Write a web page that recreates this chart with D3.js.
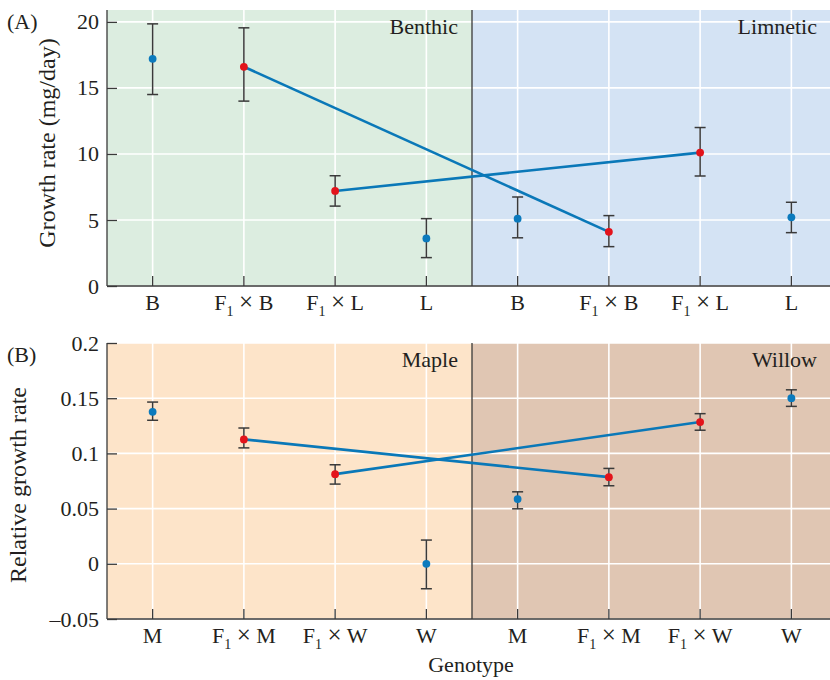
<!DOCTYPE html>
<html><head><meta charset="utf-8">
<script src="https://cdn.jsdelivr.net/npm/d3@7"></script>
<style>body{margin:0;background:#fff}svg{display:block}text{font-family:"Liberation Serif","DejaVu Serif",serif;fill:#231f20}</style>
</head><body><svg id="c" width="830" height="680"></svg>
<script>
// categories (base letter + cross partner) for each panel
const catsA = ["B","F1×B","F1×L","L","B","F1×B","F1×L","L"];
const catsB = ["M","F1×M","F1×W","W","M","F1×M","F1×W","W"];
const envA = ["Benthic","Limnetic"];
const envB = ["Maple","Willow"];
// Panel A: growth rate (mg/day)
const meanA = [17.2, 16.6, 7.2, 3.6, 5.1, 4.1, 10.1, 5.2];
const loA   = [14.5, 14.0, 6.05, 2.15, 3.65, 2.98, 8.33, 4.04];
const hiA   = [19.85, 19.55, 8.35, 5.1, 6.74, 5.33, 12.0, 6.34];
const hybA  = [false, true, true, false, false, true, true, false];
// Panel B: relative growth rate
const meanB = [0.1377, 0.1127, 0.0812, 0.0, 0.0586, 0.0785, 0.1284, 0.150];
const loB   = [0.130, 0.105, 0.0722, -0.0226, 0.0498, 0.0707, 0.121, 0.1426];
const hiB   = [0.1465, 0.123, 0.0897, 0.0215, 0.0652, 0.0864, 0.136, 0.1576];
const hybB  = [false, true, true, false, false, true, true, false];
// hybrid connecting lines: [from index, to index]
const linksA = [[1,5],[2,6]];
const linksB = [[1,5],[2,6]];
const ticksA = [0,5,10,15,20];
const ticksB = [-0.05,0,0.05,0.1,0.15,0.2];

const svg = d3.select("#c");
const X0 = 107, X1 = 837, FS = 22;
const blue = "#0b7abd", red = "#e3131b", lineC = "#0a78b8", dark = "#3a3a3a";

function panel(cfg){
  const g = svg.append("g");
  const x = d3.scaleBand().domain(d3.range(8)).range([X0, X1]);
  const y = d3.scaleLinear().domain(cfg.domain).range([cfg.bottom, cfg.top]);
  const cx = i => x(i) + x.bandwidth()/2;
  // backgrounds
  g.append("rect").attr("x", X0).attr("y", cfg.top).attr("width", x(4)-X0).attr("height", cfg.bottom-cfg.top).attr("fill", cfg.bg[0]);
  g.append("rect").attr("x", x(4)).attr("y", cfg.top).attr("width", X1-x(4)).attr("height", cfg.bottom-cfg.top).attr("fill", cfg.bg[1]);
  // grid
  g.selectAll(".hg").data(cfg.ticks).join("line").attr("x1", X0).attr("x2", X1)
    .attr("y1", d=>y(d)).attr("y2", d=>y(d)).attr("stroke", "#fff").attr("stroke-width", 1.6);
  g.selectAll(".vg").data(d3.range(8)).join("line").attr("x1", cx).attr("x2", cx)
    .attr("y1", cfg.top).attr("y2", cfg.bottom).attr("stroke", "#fff").attr("stroke-width", 1.6);
  // env labels
  g.append("text").attr("x", x(4)-14).attr("y", cfg.top+23.5).attr("text-anchor","end").attr("font-size", FS).text(cfg.env[0]);
  g.append("text").attr("x", 817).attr("y", cfg.top+23.5).attr("text-anchor","end").attr("font-size", FS).text(cfg.env[1]);
  // divider
  g.append("line").attr("x1", x(4)).attr("x2", x(4)).attr("y1", cfg.top).attr("y2", cfg.bottom).attr("stroke", dark).attr("stroke-width", 1.3);
  // axes
  const ya = d3.axisLeft(y).tickValues(cfg.ticks).tickSize(-10).tickPadding(8)
    .tickFormat(d => d < 0 ? "\u2013" + d3.format("")(-d) : d3.format("")(d));
  const yg = g.append("g").attr("transform", `translate(${X0},0)`).call(ya);
  yg.select(".domain").remove();
  yg.selectAll(".tick line").attr("stroke", dark).attr("stroke-width", 1.3);
  yg.selectAll(".tick text").attr("font-size", FS).attr("font-family", '"Liberation Serif",serif').attr("fill", "#231f20");
  g.append("line").attr("x1", X0).attr("x2", X0).attr("y1", cfg.top).attr("y2", cfg.bottom).attr("stroke", dark).attr("stroke-width", 1.3);
  const xa = d3.axisBottom(x).tickSize(-10).tickFormat("");
  const xg = g.append("g").attr("transform", `translate(0,${cfg.bottom})`).call(xa);
  xg.select(".domain").remove();
  xg.selectAll(".tick line").attr("stroke", dark).attr("stroke-width", 1.3);
  g.append("line").attr("x1", X0).attr("x2", X1).attr("y1", cfg.bottom).attr("y2", cfg.bottom).attr("stroke", dark).attr("stroke-width", 1.3);
  // category labels with subscript
  cfg.cats.forEach((c, i) => {
    const t = g.append("text").attr("x", cx(i)).attr("y", cfg.bottom + 23.5).attr("text-anchor", "middle").attr("font-size", FS);
    if (c.startsWith("F1")) {
      t.append("tspan").text("F");
      t.append("tspan").attr("font-size", 14).attr("dy", 6).text("1");
      t.append("tspan").attr("dy", -6).text(" ");
      t.append("tspan").attr("font-size", 25).text("\u00d7");
      t.append("tspan").text(" " + c.slice(3));
    } else t.text(c);
  });
  // y title
  g.append("text").attr("transform", `translate(${cfg.titleX},${cfg.titleY}) rotate(-90)`)
    .attr("text-anchor", "middle").attr("font-size", 24).text(cfg.title);
  g.append("text").attr("x", 7).attr("y", cfg.top + 19).attr("font-size", FS).text(cfg.tag);
  // hybrid lines
  g.selectAll(".lk").data(cfg.links).join("line")
    .attr("x1", d=>cx(d[0])).attr("y1", d=>y(cfg.mean[d[0]]))
    .attr("x2", d=>cx(d[1])).attr("y2", d=>y(cfg.mean[d[1]]))
    .attr("stroke", lineC).attr("stroke-width", 2.6);
  // error bars
  const eb = g.selectAll(".eb").data(d3.range(8)).join("g");
  eb.append("line").attr("x1", cx).attr("x2", cx).attr("y1", i=>y(cfg.lo[i])).attr("y2", i=>y(cfg.hi[i])).attr("stroke", dark).attr("stroke-width", 1.5);
  eb.append("line").attr("x1", i=>cx(i)-5.5).attr("x2", i=>cx(i)+5.5).attr("y1", i=>y(cfg.lo[i])).attr("y2", i=>y(cfg.lo[i])).attr("stroke", dark).attr("stroke-width", 1.5);
  eb.append("line").attr("x1", i=>cx(i)-5.5).attr("x2", i=>cx(i)+5.5).attr("y1", i=>y(cfg.hi[i])).attr("y2", i=>y(cfg.hi[i])).attr("stroke", dark).attr("stroke-width", 1.5);
  eb.append("circle").attr("cx", cx).attr("cy", i=>y(cfg.mean[i])).attr("r", 3.9).attr("fill", i=>cfg.hyb[i] ? red : blue);
}

panel({cats: catsA, env: envA, mean: meanA, lo: loA, hi: hiA, hyb: hybA, links: linksA, ticks: ticksA,
  domain: [0, 20.9], top: 10, bottom: 286, bg: ["#dcede0", "#d4e3f4"], title: "Growth rate (mg/day)", titleX: 55, titleY: 143, tag: "(A)"});
panel({cats: catsB, env: envB, mean: meanB, lo: loB, hi: hiB, hyb: hybB, links: linksB, ticks: ticksB,
  domain: [-0.05, 0.2], top: 343, bottom: 619, bg: ["#fde4c9", "#e0c6b3"], title: "Relative growth rate", titleX: 26, titleY: 485, tag: "(B)"});
svg.append("text").attr("x", 471).attr("y", 672).attr("text-anchor", "middle").attr("font-size", FS).text("Genotype");
</script></body></html>
